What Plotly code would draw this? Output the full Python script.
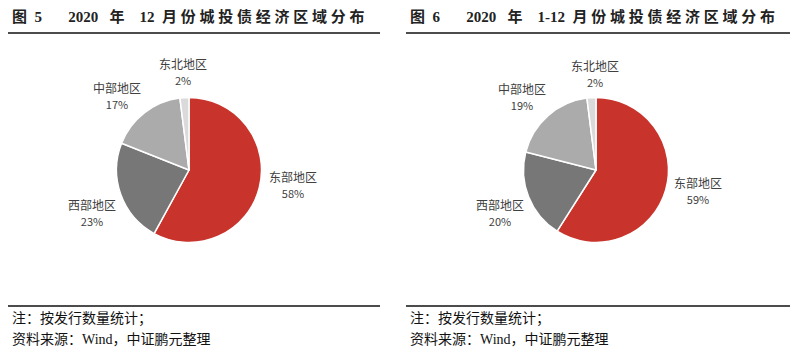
import plotly.graph_objects as go

# ---- data ----
regions = ["东部地区", "西部地区", "中部地区", "东北地区"]
dec_2020_share = [58, 23, 17, 2]
jan_dec_2020_share = [59, 20, 19, 2]
title_parts = [
    ["图", "5", "2020", "年", "12", "月份城投债经济区域分布"],
    ["图", "6", "2020", "年", "1-12", "月份城投债经济区域分布"],
]
note_line1 = "注：按发行数量统计；"
note_line2 = "资料来源：Wind，中证鹏元整理"

colors = ["#C8332B", "#777777", "#ABABAB", "#DADADA"]

OFF = 8  # default page body margin
W, H = 804 - OFF, 358 - OFF
CJK = "Liberation Serif, Noto Sans CJK SC, sans-serif"
LBL = "Noto Sans CJK SC, sans-serif"
NB = "\u00a0"


def px(x):
    return (x - OFF) / W


def py(y):
    return 1 - (y - OFF) / H


def build_title(parts):
    a, n, yr, nian, mon, rest = parts
    return (a + NB * 2 + n + NB * 7 + yr + NB * 3 + nian + NB * 4 + mon + NB * 2
            + NB.join(list(rest)))


fig = go.Figure()

pies = [
    dict(vals=dec_2020_share, cx=189, cy=170,
         lab=[(293, 184), (92, 212), (117, 95), (183, 72)]),
    dict(vals=jan_dec_2020_share, cx=596, cy=170,
         lab=[(698, 190), (500, 212), (522, 97), (595, 73)]),
]
R = 72.5
for p in pies:
    fig.add_trace(go.Pie(
        labels=regions, values=p["vals"], sort=False, direction="clockwise",
        rotation=0, marker=dict(colors=colors, line=dict(color="white", width=1.5)),
        textinfo="none", hoverinfo="label+percent", showlegend=False,
        domain=dict(x=[px(p["cx"] - R), px(p["cx"] + R)],
                    y=[py(p["cy"] + R), py(p["cy"] - R)]),
    ))

annotations = []
shapes = []
for i, p in enumerate(pies):
    for name, v, (lx, ly) in zip(regions, p["vals"], p["lab"]):
        annotations.append(dict(
            x=px(lx), y=py(ly), xref="paper", yref="paper", showarrow=False,
            text=f"{name}<br><span style='font-size:11px'>{v}%</span>",
            font=dict(family=LBL, size=12, color="#404040"),
            xanchor="center", yanchor="middle", align="center"))

panels = [(8, 380), (406, 790)]
for i, (x0, x1) in enumerate(panels):
    annotations.append(dict(
        x=px(x0 + 2), y=py(16), xref="paper", yref="paper", showarrow=False,
        text=f"<b>{build_title(title_parts[i])}</b>",
        font=dict(family=CJK, size=15, color="#222222"),
        xanchor="left", yanchor="middle", align="left"))
    annotations.append(dict(
        x=px(x0 + 2), y=py(319), xref="paper", yref="paper", showarrow=False,
        text=note_line1, font=dict(family=CJK, size=14, color="#111111"),
        xanchor="left", yanchor="middle", align="left"))
    annotations.append(dict(
        x=px(x0 + 2), y=py(339), xref="paper", yref="paper", showarrow=False,
        text=note_line2, font=dict(family=CJK, size=14, color="#111111"),
        xanchor="left", yanchor="middle", align="left"))
    for yy in (33, 306):
        shapes.append(dict(type="line", xref="paper", yref="paper",
                           x0=px(x0), x1=px(x1), y0=py(yy), y1=py(yy),
                           line=dict(color="#111111", width=1.3)))

fig.update_layout(
    width=W, height=H, margin=dict(l=0, r=0, t=0, b=0),
    paper_bgcolor="white", plot_bgcolor="white",
    annotations=annotations, shapes=shapes,
)

fig.write_html("out.html")
